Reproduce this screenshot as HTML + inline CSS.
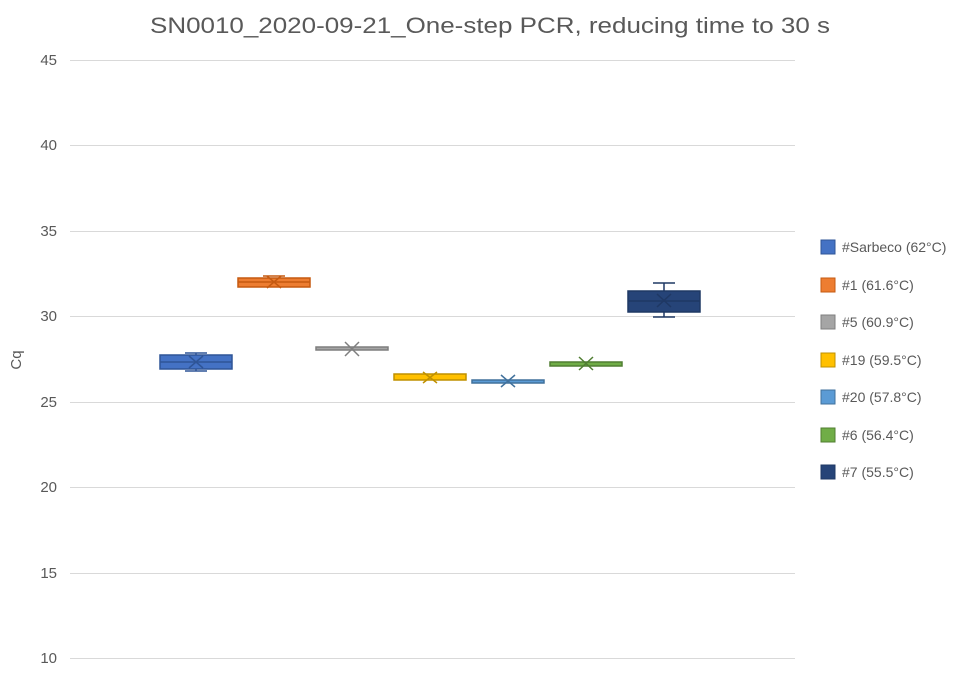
<!DOCTYPE html>
<html><head><meta charset="utf-8"><style>body{margin:0;background:#fff}</style></head><body>
<svg width="974" height="673" xmlns="http://www.w3.org/2000/svg" font-family="Liberation Sans, sans-serif">
<rect width="974" height="673" fill="#fff"/>
<text x="150" y="33" font-size="22" fill="#595959" textLength="680" lengthAdjust="spacingAndGlyphs">SN0010_2020-09-21_One-step PCR, reducing time to 30 s</text>
<g stroke="#d9d9d9" stroke-width="1">
<line x1="70" x2="795" y1="60.5" y2="60.5"/><line x1="70" x2="795" y1="145.5" y2="145.5"/>
<line x1="70" x2="795" y1="231.5" y2="231.5"/><line x1="70" x2="795" y1="316.5" y2="316.5"/>
<line x1="70" x2="795" y1="402.5" y2="402.5"/><line x1="70" x2="795" y1="487.5" y2="487.5"/>
<line x1="70" x2="795" y1="573.5" y2="573.5"/><line x1="70" x2="795" y1="658.5" y2="658.5"/>
</g>
<g font-size="15" fill="#595959" text-anchor="end">
<text x="57" y="65">45</text><text x="57" y="150">40</text><text x="57" y="236">35</text><text x="57" y="321">30</text>
<text x="57" y="407">25</text><text x="57" y="492">20</text><text x="57" y="578">15</text><text x="57" y="663">10</text>
</g>
<text x="21" y="360" font-size="15" fill="#595959" transform="rotate(-90 21 360)" text-anchor="middle">Cq</text>
<g stroke-width="1.5">
<g stroke="#2f5597"><line x1="185" x2="207" y1="353" y2="353"/><line x1="185" x2="207" y1="371" y2="371"/><line x1="196" x2="196" y1="353" y2="371"/><rect x="160" y="355" width="72" height="14" fill="#4472c4"/><line x1="160" x2="232" y1="362" y2="362"/><path d="M189 356l14 12M203 356l-14 12"/></g>
<g stroke="#c55a11"><line x1="263" x2="285" y1="276" y2="276"/><rect x="238" y="278" width="72" height="9" fill="#ed7d31"/><line x1="238" x2="310" y1="282" y2="282"/><path d="M267 276l14 12M281 276l-14 12"/></g>
<g stroke="#7f7f7f"><rect x="316" y="347" width="72" height="3" fill="#a5a5a5"/><path d="M345 342l14 14M359 342l-14 14"/></g>
<g stroke="#bf9000"><rect x="394" y="374" width="72" height="6" fill="#ffc000"/><path d="M423 372l14 11M437 372l-14 11"/></g>
<g stroke="#41719c"><rect x="472" y="380" width="72" height="3" fill="#5b9bd5"/><path d="M501 375l14 12M515 375l-14 12"/></g>
<g stroke="#507e32"><rect x="550" y="362" width="72" height="4" fill="#70ad47"/><path d="M579 357l14 13M593 357l-14 13"/></g>
<g stroke="#1f3864"><line x1="653" x2="675" y1="283" y2="283"/><line x1="653" x2="675" y1="317" y2="317"/><line x1="664" x2="664" y1="283" y2="317"/><rect x="628" y="291" width="72" height="21" fill="#264478"/><line x1="628" x2="700" y1="301" y2="301"/><path d="M657 294l14 13M671 294l-14 13"/></g>
</g>
<g font-size="14" fill="#595959">
<rect x="821" y="240" width="14" height="14" fill="#4472c4" stroke="#2f5597"/><text x="842" y="252">#Sarbeco (62°C)</text>
<rect x="821" y="278" width="14" height="14" fill="#ed7d31" stroke="#c55a11"/><text x="842" y="290">#1 (61.6°C)</text>
<rect x="821" y="315" width="14" height="14" fill="#a5a5a5" stroke="#7f7f7f"/><text x="842" y="327">#5 (60.9°C)</text>
<rect x="821" y="353" width="14" height="14" fill="#ffc000" stroke="#bf9000"/><text x="842" y="365">#19 (59.5°C)</text>
<rect x="821" y="390" width="14" height="14" fill="#5b9bd5" stroke="#41719c"/><text x="842" y="402">#20 (57.8°C)</text>
<rect x="821" y="428" width="14" height="14" fill="#70ad47" stroke="#507e32"/><text x="842" y="440">#6 (56.4°C)</text>
<rect x="821" y="465" width="14" height="14" fill="#264478" stroke="#1f3864"/><text x="842" y="477">#7 (55.5°C)</text>
</g>
</svg>
</body></html>
